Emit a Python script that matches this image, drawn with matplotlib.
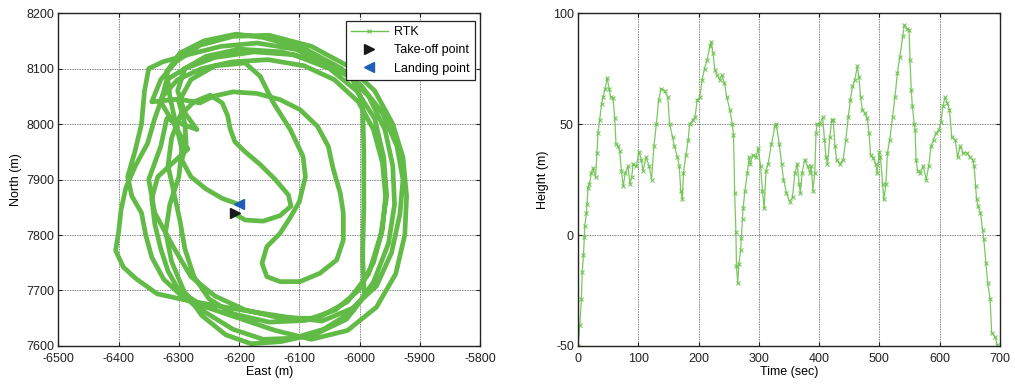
import matplotlib
matplotlib.use("Agg")
import matplotlib.pyplot as plt
from matplotlib.lines import Line2D

plt.rcParams['font.family'] = ['Liberation Sans', 'DejaVu Sans']
plt.rcParams['font.size'] = 9
plt.rcParams['axes.unicode_minus'] = False

# ---------------- Trajectory (East / North, m) ----------------
takeoff_east = [-6210, -6190, -6160, -6132, -6114, -6118, -6140, -6165, -6190, -6207, -6215, -6219, -6228, -6248, -6275, -6298]
takeoff_north = [7840, 7827, 7825, 7835, 7852, 7872, 7900, 7927, 7950, 7968, 7992, 8015, 8038, 8052, 8040, 8015]

loop_a_east = [-6312, -6318, -6308, -6298, -6290, -6275, -6250, -6210, -6150, -6090, -6040, -6002, -5977, -5962, -5957, -5962, -5977, -6002, -6042, -6092, -6152, -6212, -6262, -6302, -6327, -6340]
loop_a_north = [7975, 7925, 7875, 7825, 7775, 7725, 7685, 7658, 7643, 7646, 7665, 7700, 7750, 7810, 7870, 7930, 7990, 8040, 8080, 8105, 8116, 8112, 8100, 8080, 8050, 8010]

loop_b_east = [-6352, -6372, -6388, -6396, -6400, -6405, -6392, -6372, -6336, -6290, -6240, -6180, -6120, -6062, -6012, -5972, -5947, -5933, -5928, -5938, -5962, -5998, -6048, -6108, -6170, -6230, -6285, -6327, -6350, -6357, -6362, -6373]
loop_b_north = [7965, 7925, 7885, 7845, 7805, 7772, 7742, 7722, 7694, 7683, 7673, 7662, 7652, 7645, 7668, 7708, 7768, 7838, 7900, 7960, 8020, 8070, 8110, 8135, 8146, 8140, 8125, 8112, 8100, 8060, 8000, 7950]

loop_c_east = [-6385, -6378, -6362, -6355, -6345, -6325, -6295, -6255, -6210, -6160, -6110, -6060, -6012, -5977, -5952, -5942, -5945, -5958, -5985, -6030, -6090, -6160, -6205, -6258, -6298, -6320, -6315]
loop_c_north = [7905, 7870, 7840, 7800, 7760, 7720, 7690, 7660, 7630, 7612, 7614, 7630, 7662, 7715, 7785, 7855, 7925, 7990, 8050, 8100, 8135, 8156, 8162, 8150, 8128, 8095, 8050]

loop_d_east = [-6305, -6295, -6300, -6315, -6322, -6312, -6292, -6262, -6222, -6180, -6130, -6072, -6022, -5992, -5995, -5993, -5993, -5995, -6012, -6062, -6130, -6200, -6255, -6290, -6302, -6290, -6270]
loop_d_north = [8000, 7955, 7905, 7855, 7805, 7752, 7700, 7655, 7620, 7604, 7608, 7622, 7648, 7690, 7760, 7850, 7950, 8040, 8082, 8112, 8130, 8135, 8122, 8100, 8060, 8020, 7990]

loop_f_east = [-6320, -6330, -6350, -6340, -6310, -6280, -6240, -6190, -6130, -6070, -6020, -5985, -5965, -5955, -5960, -5975, -6005, -6050, -6110, -6175, -6240, -6290, -6320, -6330, -6300]
loop_f_north = [8010, 7960, 7900, 7840, 7780, 7725, 7690, 7665, 7650, 7650, 7680, 7730, 7800, 7870, 7940, 8010, 8060, 8100, 8125, 8130, 8120, 8100, 8080, 8040, 7985]

loop_e_east = [-6285, -6310, -6335, -6345, -6340, -6330, -6318, -6300, -6260, -6200, -6140, -6080, -6020, -5972, -5940, -5925, -5922, -5928, -5945, -5975, -6020, -6080, -6150, -6210, -6265, -6305, -6330, -6345]
loop_e_north = [7955, 7930, 7905, 7865, 7820, 7775, 7735, 7700, 7672, 7650, 7628, 7612, 7628, 7670, 7730, 7800, 7870, 7940, 8000, 8060, 8105, 8140, 8160, 8158, 8142, 8112, 8080, 8040]

inner_east = [-6300, -6265, -6243, -6210, -6170, -6132, -6099, -6070, -6052, -6044, -6032, -6027, -6027, -6038, -6066, -6099, -6132, -6154, -6162, -6154, -6132, -6116, -6100, -6090, -6094, -6115, -6143, -6165, -6190, -6240, -6280]
inner_north = [8045, 8038, 8050, 8058, 8055, 8044, 8026, 7996, 7960, 7920, 7875, 7839, 7791, 7755, 7731, 7716, 7716, 7725, 7749, 7779, 7803, 7830, 7860, 7905, 7942, 7990, 8038, 8086, 8110, 8105, 8080]

landing_east = [-6300, -6290, -6288, -6295, -6280, -6255, -6228, -6200]
landing_north = [8040, 8000, 7965, 7935, 7905, 7883, 7866, 7855]

takeoff_point = (-6207, 7840)
landing_point = (-6201, 7856)

# ---------------- Height profile ----------------
time_s = [0, 3, 5.5, 7, 9, 10.5, 11, 14, 15, 16.5,
          19, 22, 25, 29, 31.5, 33, 36, 39, 41.5, 45,
          48.5, 51.5, 54, 58, 61, 63, 66, 69, 72, 75,
          78.5, 83, 86, 89, 91.5, 97, 101, 105, 108, 113,
          118, 122, 126, 130, 134, 138, 144, 149, 152, 157,
          160, 165, 168, 170.5, 173, 175, 179, 183, 185, 191,
          194, 198, 202, 206, 210, 214, 219, 221, 224, 227,
          231, 235, 239, 243, 247, 252, 256, 258, 260, 262,
          263, 265, 267, 270, 271, 273, 274, 277, 281, 284,
          286, 290, 295, 299, 303, 306, 309, 312, 315.5, 321,
          327, 329, 334, 338, 341, 346, 351, 356, 360, 364,
          367, 369, 372, 376, 381, 385, 387, 390, 393, 395,
          397, 401.5, 406, 409, 411.5, 414, 418, 421, 423.5, 426.5,
          429, 434.5, 440, 444.5, 448.5, 452, 455.5, 459.5, 463.5, 466,
          469, 472, 476, 480, 483, 485.5, 490, 494, 496.5, 500,
          502, 505.5, 507.5, 511, 513.5, 517.5, 522, 526, 530, 534,
          539, 541.5, 545.5, 549.5, 551, 553, 555, 558, 559.5, 561,
          563.5, 568, 573, 578, 582, 586, 590, 594.5, 599, 602.5,
          605.5, 609, 613, 616.5, 620.5, 626, 630, 634, 639.5, 645,
          650.5, 655, 657.5, 660, 661.5, 664, 668, 671.5, 673.5, 677,
          680, 684, 686.5, 692, 696]
height_m = [-50, -40.5, -29, -16.5, -9, -0.7, 4, 10, 14, 21,
            23, 28, 30, 26, 37, 46, 52, 59, 62, 66,
            70.7, 66, 62.4, 61.7, 52.6, 41, 40, 38, 29, 22,
            28, 31, 23, 26, 32, 31, 37.6, 34, 29, 35,
            31, 25, 40, 50, 61, 66, 65, 62, 50, 44,
            40, 35, 31, 20, 16, 28, 36, 43, 50, 52,
            53, 61, 62, 70, 75, 79, 85, 87, 82, 74.5,
            72, 70, 72, 68.4, 62, 56.4, 50, 45, 19, 1.5,
            -14, -21.7, -13, -6.7, -1.5, 7, 12, 20, 28, 35,
            32, 36, 35, 39, 31, 20, 12, 29, 32, 41,
            49, 50, 41, 32, 25, 19, 15, 17, 28, 32,
            23, 19, 28, 34, 31, 28, 31, 20, 28, 46,
            50, 50, 53, 43, 35, 32, 44, 52, 52, 40,
            34, 32, 34, 43, 53, 61, 67, 70, 76, 71.4,
            62, 56.4, 55, 52.6, 46, 36, 34.6, 32, 28, 37.6,
            35, 23, 16, 23, 37, 43, 53, 62, 73, 80,
            89.5, 94.7, 93, 92.5, 79, 65.4, 58, 50, 47.4, 34,
            29, 28, 31, 25, 31, 40, 43, 46, 47.4, 51,
            58, 62, 59.5, 56.4, 44, 43, 35, 40, 37, 37,
            35, 34, 31, 22, 16, 13, 10, 2.3, -2, -12.7,
            -21.7, -29, -44, -45.8, -49.5]

east_ticks = [-6500, -6400, -6300, -6200, -6100, -6000, -5900, -5800]
north_ticks = [7600, 7700, 7800, 7900, 8000, 8100, 8200]
time_ticks = [0, 100, 200, 300, 400, 500, 600, 700]
height_ticks = [-50, 0, 50, 100]

GREEN = '#62bb46'
GREEN_LIGHT = '#6cc24f'

east = (takeoff_east + loop_a_east + loop_b_east + loop_c_east + loop_d_east
        + loop_f_east + loop_e_east + inner_east + landing_east)
north = (takeoff_north + loop_a_north + loop_b_north + loop_c_north + loop_d_north
         + loop_f_north + loop_e_north + inner_north + landing_north)

fig = plt.figure(figsize=(10.15, 3.84), dpi=100)
ax1 = fig.add_axes([0.0575, 0.099, 0.4155, 0.867])
ax2 = fig.add_axes([0.5695, 0.099, 0.4155, 0.867])


def style_axes(ax):
    ax.grid(True, color='#555555', linestyle=(0, (1, 1)), linewidth=0.6)
    ax.set_axisbelow(True)
    ax.tick_params(direction='in', top=True, right=True, length=3, width=0.8,
                   labelsize=9, colors='#222222')
    ax.tick_params(axis='x', pad=5)
    ax.tick_params(axis='y', pad=3)
    for s in ax.spines.values():
        s.set_linewidth(1.0)
        s.set_color('#222222')


# Left: trajectory
ax1.plot(east, north, color=GREEN, linewidth=3.4, solid_joinstyle='round',
         solid_capstyle='round', zorder=2)
ax1.plot([takeoff_point[0]], [takeoff_point[1]], marker='>', color='#1a1a1a',
         markersize=7.5, linestyle='none', zorder=4)
ax1.plot([landing_point[0]], [landing_point[1]], marker='<', color='#1f5fb4',
         markersize=7.5, linestyle='none', zorder=4)
ax1.set_xlim(east_ticks[0], east_ticks[-1])
ax1.set_ylim(north_ticks[0], north_ticks[-1])
ax1.set_xticks(east_ticks)
ax1.set_yticks(north_ticks)
ax1.set_xlabel('East (m)', fontsize=9, labelpad=1)
ax1.set_ylabel('North (m)', fontsize=9, labelpad=3)
style_axes(ax1)

handles = [
    Line2D([], [], color=GREEN_LIGHT, linewidth=1.0, marker='x', markersize=3,
           markevery=[1], markeredgewidth=0.8),
    Line2D([], [], color='#1a1a1a', marker='>', markersize=7, linestyle='none'),
    Line2D([], [], color='#1f5fb4', marker='<', markersize=7, linestyle='none'),
]
leg = ax1.legend(handles, ['RTK', 'Take-off point', 'Landing point'],
                 loc='upper right', bbox_to_anchor=(0.988, 0.976),
                 fontsize=9, frameon=True, fancybox=False, framealpha=1,
                 edgecolor='#222222', borderpad=0.4, labelspacing=0.5,
                 handlelength=3.0, handletextpad=0.5, borderaxespad=0)
leg.get_frame().set_linewidth(0.9)

# Right: height
ax2.plot(time_s, height_m, color=GREEN_LIGHT, linewidth=0.9, marker='x',
         markersize=3.2, markeredgewidth=0.8, alpha=0.9, zorder=2)
ax2.set_xlim(time_ticks[0], time_ticks[-1])
ax2.set_ylim(height_ticks[0], height_ticks[-1])
ax2.set_xticks(time_ticks)
ax2.set_yticks(height_ticks)
ax2.set_xlabel('Time (sec)', fontsize=9, labelpad=1)
ax2.set_ylabel('Height (m)', fontsize=9, labelpad=3)
style_axes(ax2)

fig.savefig('out.png', dpi=100)
